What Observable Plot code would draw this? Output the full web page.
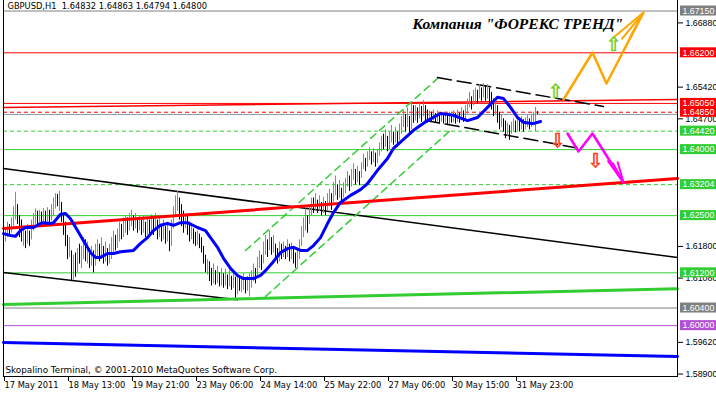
<!DOCTYPE html>
<html><head><meta charset="utf-8">
<script src="https://cdn.jsdelivr.net/npm/d3@7"></script>
<script src="https://cdn.jsdelivr.net/npm/@observablehq/plot@0.6"></script>
<style>html,body{margin:0;padding:0;background:#fff;}svg{display:block;}</style>
</head><body><div id="chart"></div>
<script>
// ---------- data ----------
const headerText = "GBPUSD,H1  1.64832 1.64863 1.64794 1.64800";
const titleText = "Компания \"ФОРЕКС ТРЕНД\"";
const copyrightText = "Skopalino Terminal, © 2001-2010 MetaQuotes Software Corp.";

const xTickBars = [0, 32, 64, 96, 128, 160, 192, 224, 256];
const xTickLabels = ["17 May 2011", "18 May 13:00", "19 May 21:00", "23 May 06:00", "24 May 14:00", "25 May 22:00", "27 May 06:00", "30 May 15:00", "31 May 23:00"];
const yTickValues = [1.5890, 1.5962, 1.6108, 1.6180, 1.6470, 1.6542, 1.6688];

const levelPrices = [1.6715, 1.6620, 1.6505, 1.6485, 1.6442, 1.6400, 1.63204, 1.6250, 1.6120, 1.6040, 1.6000];
const bidPrice = 1.6480;

const barLow = [
1.6180,1.6190,1.6200,1.6205,1.6210,1.6225,1.6240,1.6230,1.6200,1.6190,
1.6180,1.6175,1.6185,1.6180,1.6195,1.6215,1.6230,1.6225,1.6230,1.6228,
1.6232,1.6230,1.6235,1.6232,1.6238,1.6250,1.6265,1.6270,1.6260,1.6235,
1.6205,1.6180,1.6150,1.6155,1.6100,1.6103,1.6110,1.6120,1.6140,1.6130,
1.6150,1.6145,1.6140,1.6130,1.6135,1.6120,1.6135,1.6150,1.6145,1.6150,
1.6140,1.6145,1.6135,1.6140,1.6150,1.6165,1.6170,1.6175,1.6190,1.6195,
1.6200,1.6210,1.6205,1.6215,1.6225,1.6215,1.6220,1.6210,1.6215,1.6205,
1.6210,1.6200,1.6205,1.6200,1.6210,1.6205,1.6215,1.6195,1.6200,1.6190,
1.6195,1.6185,1.6190,1.6168,1.6180,1.6220,1.6250,1.6260,1.6240,1.6225,
1.6210,1.6220,1.6205,1.6190,1.6195,1.6185,1.6180,1.6182,1.6175,1.6165,
1.6140,1.6120,1.6115,1.6100,1.6090,1.6095,1.6092,1.6095,1.6088,1.6090,
1.6085,1.6090,1.6082,1.6088,1.6080,1.6085,1.6062,1.6070,1.6078,1.6075,
1.6080,1.6072,1.6078,1.6065,1.6085,1.6100,1.6095,1.6110,1.6130,1.6125,
1.6140,1.6160,1.6155,1.6170,1.6160,1.6165,1.6150,1.6140,1.6145,1.6150,
1.6155,1.6150,1.6155,1.6145,1.6150,1.6140,1.6130,1.6132,1.6150,1.6180,
1.6200,1.6215,1.6210,1.6230,1.6250,1.6255,1.6262,1.6255,1.6260,1.6250,
1.6255,1.6250,1.6260,1.6270,1.6262,1.6280,1.6295,1.6285,1.6290,1.6280,
1.6290,1.6300,1.6315,1.6305,1.6315,1.6330,1.6320,1.6325,1.6318,1.6335,
1.6355,1.6350,1.6360,1.6375,1.6365,1.6370,1.6360,1.6368,1.6385,1.6395,
1.6400,1.6405,1.6395,1.6400,1.6415,1.6410,1.6415,1.6405,1.6420,1.6435,
1.6450,1.6440,1.6450,1.6435,1.6445,1.6460,1.6465,1.6460,1.6470,1.6462,
1.6475,1.6465,1.6460,1.6465,1.6462,1.6465,1.6460,1.6463,1.6458,1.6462,
1.6458,1.6460,1.6455,1.6458,1.6460,1.6462,1.6458,1.6462,1.6460,1.6465,
1.6462,1.6468,1.6480,1.6495,1.6490,1.6500,1.6510,1.6505,1.6515,1.6510,
1.6518,1.6510,1.6515,1.6505,1.6490,1.6475,1.6480,1.6460,1.6445,1.6450,
1.6440,1.6425,1.6430,1.6421,1.6435,1.6440,1.6438,1.6442,1.6440,1.6445,
1.6440,1.6445,1.6450,1.6445,1.6450,1.6455,1.6440,1.64794];

const barHigh = [
1.6205,1.6222,1.6235,1.6230,1.6245,1.6270,1.6303,1.6275,1.6250,1.6240,
1.6225,1.6215,1.6230,1.6215,1.6240,1.6255,1.6265,1.6260,1.6262,1.6258,
1.6266,1.6260,1.6268,1.6262,1.6275,1.6290,1.6300,1.6298,1.6305,1.6280,
1.6255,1.6235,1.6205,1.6200,1.6170,1.6160,1.6165,1.6175,1.6185,1.6180,
1.6200,1.6195,1.6190,1.6175,1.6180,1.6170,1.6185,1.6195,1.6185,1.6200,
1.6180,1.6190,1.6175,1.6185,1.6200,1.6215,1.6205,1.6220,1.6235,1.6230,
1.6245,1.6250,1.6245,1.6255,1.6262,1.6250,1.6255,1.6245,1.6250,1.6240,
1.6248,1.6235,1.6245,1.6240,1.6252,1.6245,1.6255,1.6240,1.6245,1.6230,
1.6240,1.6225,1.6235,1.6215,1.6240,1.6270,1.6295,1.6305,1.6290,1.6275,
1.6260,1.6255,1.6250,1.6235,1.6230,1.6220,1.6212,1.6215,1.6208,1.6200,
1.6180,1.6160,1.6150,1.6145,1.6130,1.6140,1.6125,1.6135,1.6120,1.6130,
1.6118,1.6128,1.6115,1.6125,1.6112,1.6120,1.6110,1.6115,1.6110,1.6112,
1.6118,1.6105,1.6112,1.6118,1.6125,1.6140,1.6130,1.6155,1.6170,1.6160,
1.6190,1.6205,1.6195,1.6215,1.6200,1.6205,1.6185,1.6175,1.6190,1.6185,
1.6190,1.6180,1.6195,1.6185,1.6188,1.6175,1.6165,1.6170,1.6195,1.6225,
1.6245,1.6265,1.6250,1.6275,1.6290,1.6290,1.6300,1.6285,1.6295,1.6280,
1.6292,1.6282,1.6300,1.6310,1.6300,1.6325,1.6340,1.6320,1.6330,1.6312,
1.6325,1.6335,1.6350,1.6340,1.6355,1.6368,1.6355,1.6362,1.6350,1.6370,
1.6390,1.6380,1.6395,1.6405,1.6395,1.6402,1.6392,1.6400,1.6415,1.6430,
1.6435,1.6445,1.6430,1.6440,1.6455,1.6440,1.6450,1.6440,1.6458,1.6475,
1.6490,1.6480,1.6495,1.6475,1.6507,1.6500,1.6500,1.6495,1.6505,1.6498,
1.6512,1.6500,1.6490,1.6488,1.6485,1.6490,1.6482,1.6488,1.6480,1.6485,
1.6478,1.6482,1.6478,1.6485,1.6480,1.6488,1.6482,1.6490,1.6483,1.6495,
1.6488,1.6500,1.6515,1.6530,1.6520,1.6535,1.6540,1.6535,1.6548,1.6540,
1.6550,1.6545,1.6548,1.6540,1.6530,1.6515,1.6510,1.6500,1.6485,1.6480,
1.6470,1.6465,1.6460,1.6455,1.6462,1.6470,1.6465,1.6472,1.6465,1.6475,
1.6468,1.6472,1.6478,1.6470,1.6480,1.6485,1.6496,1.64863];

// u = bull bar, d = bear bar
const barDir = ["duuduuuddd","ududuuudud","ududuuudud","dddududu du","udududuudu",
  "duduuuduud","uuduududud","ududududud","ududuuuudd","dudduddudd",
  "dduddududu","dududududu","uduuuuduud","uudududdud","udududduuu",
  "uuduududud","uduuduudud","uuuduududu","uduududuuu","duduududuu",
  "ududududud","uddudududu","dududududu","duuuduudud","ududdduddu",
  "dduduududu","duuduuud"].join("").replace(/ /g, "");

// moving average (bar index, price)
const maPoints = [[0,1.6209],[3.5,1.6205],[6,1.6203],[8.5,1.6216],[11,1.6223],[15,1.6223],[18.5,1.6232],[20,1.6234],[23.5,1.6232],[25,1.6234],[28.5,1.6253],[31,1.6255],[33.5,1.6243],[37,1.6216],[40,1.6193],[43.5,1.6166],[46,1.6155],[48.5,1.6155],[52,1.6164],[55,1.6164],[58.5,1.6168],[65,1.6171],[68.5,1.6187],[72,1.6200],[75,1.6216],[78.5,1.6228],[82,1.6232],[85,1.6228],[88.5,1.6234],[92,1.6234],[97,1.6223],[101,1.6216],[103.5,1.6200],[107,1.6178],[110,1.6153],[113.5,1.6130],[117,1.6114],[120,1.6107],[125,1.6107],[128.5,1.6114],[131,1.6125],[134.5,1.6143],[138.5,1.6166],[142,1.6175],[145,1.6178],[148.5,1.6171],[152,1.6171],[155,1.6182],[158.5,1.6200],[162,1.6232],[165,1.6257],[168.5,1.6280],[173.5,1.6296],[178.5,1.6309],[182,1.6323],[187,1.6353],[192,1.6380],[195,1.6403],[205,1.6444],[212,1.6466],[218.5,1.6482],[225,1.6478],[232,1.6466],[237,1.6473],[242,1.6496],[247,1.6519],[250,1.6516],[253.5,1.6496],[257,1.6473],[260,1.6462],[265,1.6459],[268.5,1.6464]];

// trend lines (bar index, price)
const redRising = [[0,1.6221],[337,1.63344]];
const redThin = [[0,1.6496],[337,1.65139]];
const greenRising = [[0,1.6048],[337,1.6084]];
const blueFalling = [[0,1.59616],[337,1.59298]];
const blackUpper = [[0,1.6357],[337,1.61548]];
const blackLower = [[0,1.6121],[117,1.6059]];
const greenChanUpper = [[121,1.61707],[217,1.65616]];
const greenChanLower = [[131,1.60662],[224.5,1.6448]];
const blackChanUpper = [[217,1.65639],[300,1.6498]];
const blackChanLower = [[211,1.64662],[288.5,1.64025]];

// forecast arrows (bar index, price); head = tip followed by fan ends
const orangePath = [[280,1.65139],[294.5,1.66207],[301.5,1.65503],[320,1.67116]];
const orangeHead = [[320,1.67116],[305,1.66548],[309,1.66503],[313,1.66525]];
const magentaPath = [[282,1.64366],[287.5,1.63957],[294.5,1.64366],[310,1.63252]];
const magentaHead = [[310,1.63252],[302,1.63753],[304.5,1.63707],[307,1.6373]];
const upSigns = [[276,1.65321],[305,1.66389]];
const downSigns = [[277,1.64207],[296,1.63753]];
const titleAnchor = [[204.5,1.66844]];

// ---------- styles ----------
const levelColors = ["#808080","#ff0000","#ff0000","#ff0000","#32cd32","#32cd32","#32cd32","#32cd32","#32cd32","#808080","#b450d2"];
const levelDashed = [false,false,false,true,true,false,true,false,false,false,false];
const upColor = "#33c633";
const font = "DejaVu Sans";
const fs = 8.3;
const priceFont = "Liberation Sans";
const priceFs = 8.8;

const levels = levelPrices.map((p, k) => ({p, color: levelColors[k], dashed: levelDashed[k]}));
const bars = barHigh.map((h, i) => ({i, hi: h, lo: barLow[i], up: barDir[i] === "u"}));
const tickLabel = new Map(xTickBars.map((b, k) => [b, xTickLabels[k]]));
const fmt = d3.format(".5f");
const xDomain = [0, 337];
const yDomain = [1.58844, 1.67389];
const boxHalf = 0.00114;
const P = d => d[0], Q = d => d[1];

const chart = Plot.plot({
  width: 716, height: 393,
  marginLeft: 3, marginRight: 39, marginTop: 0, marginBottom: 17,
  x: {domain: xDomain, axis: null},
  y: {domain: yDomain, axis: null},
  color: {type: "identity"},
  style: {fontFamily: font, fontSize: fs + "px", background: "#fff", overflow: "visible"},
  marks: [
    Plot.ruleY(levels.filter(d => !d.dashed), {y: "p", stroke: "color"}),
    Plot.ruleY(levels.filter(d => d.dashed), {y: "p", stroke: "color", strokeDasharray: "4,3"}),
    Plot.ruleY([bidPrice], {stroke: "#8c9aa8"}),
    Plot.line(redThin, {x: P, y: Q, stroke: "#ff0000"}),
    Plot.line(blackUpper, {x: P, y: Q, stroke: "#000"}),
    Plot.line(blackLower, {x: P, y: Q, stroke: "#000"}),
    Plot.line(greenChanUpper, {x: P, y: Q, stroke: "#32cd32", strokeDasharray: "7,5"}),
    Plot.line(greenChanLower, {x: P, y: Q, stroke: "#32cd32", strokeDasharray: "7,5"}),
    Plot.line(blackChanUpper, {x: P, y: Q, stroke: "#000", strokeDasharray: "14,6"}),
    Plot.line(blackChanLower, {x: P, y: Q, stroke: "#000", strokeDasharray: "14,6"}),
    Plot.ruleX(bars, {x: "i", y1: "lo", y2: "hi", stroke: d => d.up ? upColor : "#000"}),
    Plot.line(redRising, {x: P, y: Q, stroke: "#ff0000", strokeWidth: 3}),
    Plot.line(greenRising, {x: P, y: Q, stroke: "#32cd32", strokeWidth: 3}),
    Plot.line(blueFalling, {x: P, y: Q, stroke: "#0000ff", strokeWidth: 3}),
    Plot.line(maPoints, {x: P, y: Q, stroke: "#0000ff", strokeWidth: 3}),
    Plot.line(orangePath, {x: P, y: Q, stroke: "#ffa500", strokeWidth: 2.5}),
    Plot.link(orangeHead.slice(1), {x1: () => orangeHead[0][0], y1: () => orangeHead[0][1], x2: P, y2: Q, stroke: "#ffa500", strokeWidth: 2}),
    Plot.line(magentaPath, {x: P, y: Q, stroke: "#ff00ff", strokeWidth: 2.5}),
    Plot.link(magentaHead.slice(1), {x1: () => magentaHead[0][0], y1: () => magentaHead[0][1], x2: P, y2: Q, stroke: "#ff00ff", strokeWidth: 2}),
    Plot.text(upSigns, {x: P, y: Q, text: () => "⇧", fill: "#66cc33", stroke: "#8fd400", strokeWidth: 0.6, fontSize: 19, fontFamily: font}),
    Plot.text(downSigns, {x: P, y: Q, text: () => "⇩", fill: "#ff3a1a", stroke: "#ff3a1a", strokeWidth: 0.6, fontSize: 19, fontFamily: font}),
    Plot.ruleX(xDomain, {stroke: "#000"}),
    Plot.ruleY([yDomain[0]], {stroke: "#000", x2: 337.5}),
    Plot.axisX({ticks: xTickBars, tickFormat: d => tickLabel.get(d), tickSize: 5, tickPadding: 1, textAnchor: "start", dx: 1, stroke: "#000", fill: "#000", label: null}),
    Plot.axisY({anchor: "right", ticks: yTickValues, tickFormat: fmt, tickSize: 5, tickPadding: 3, fill: "#000", stroke: "#000", label: null, fontFamily: priceFont, fontSize: priceFs}),
    Plot.rect(levels, {x1: 338.5, x2: 360, y1: d => d.p - boxHalf, y2: d => d.p + boxHalf, fill: "color"}),
    Plot.text(levels, {x: 339.5, y: "p", text: d => fmt(d.p), fill: "#fff", textAnchor: "start", fontFamily: priceFont, fontSize: priceFs}),
    Plot.text([headerText], {frameAnchor: "top-left", dx: 4, dy: 3, lineAnchor: "top", textAnchor: "start", fill: "#000"}),
    Plot.text(titleAnchor, {x: P, y: Q, text: () => titleText, textAnchor: "start", fontFamily: "Liberation Serif", fontWeight: "bold", fontStyle: "italic", fontSize: 15.5, fill: "#000"}),
    Plot.text([copyrightText], {frameAnchor: "bottom-left", dx: 2, dy: -4, lineAnchor: "bottom", textAnchor: "start", fill: "#000", fontSize: 8.8})
  ]
});
document.getElementById("chart").appendChild(chart);
</script>
</body></html>
